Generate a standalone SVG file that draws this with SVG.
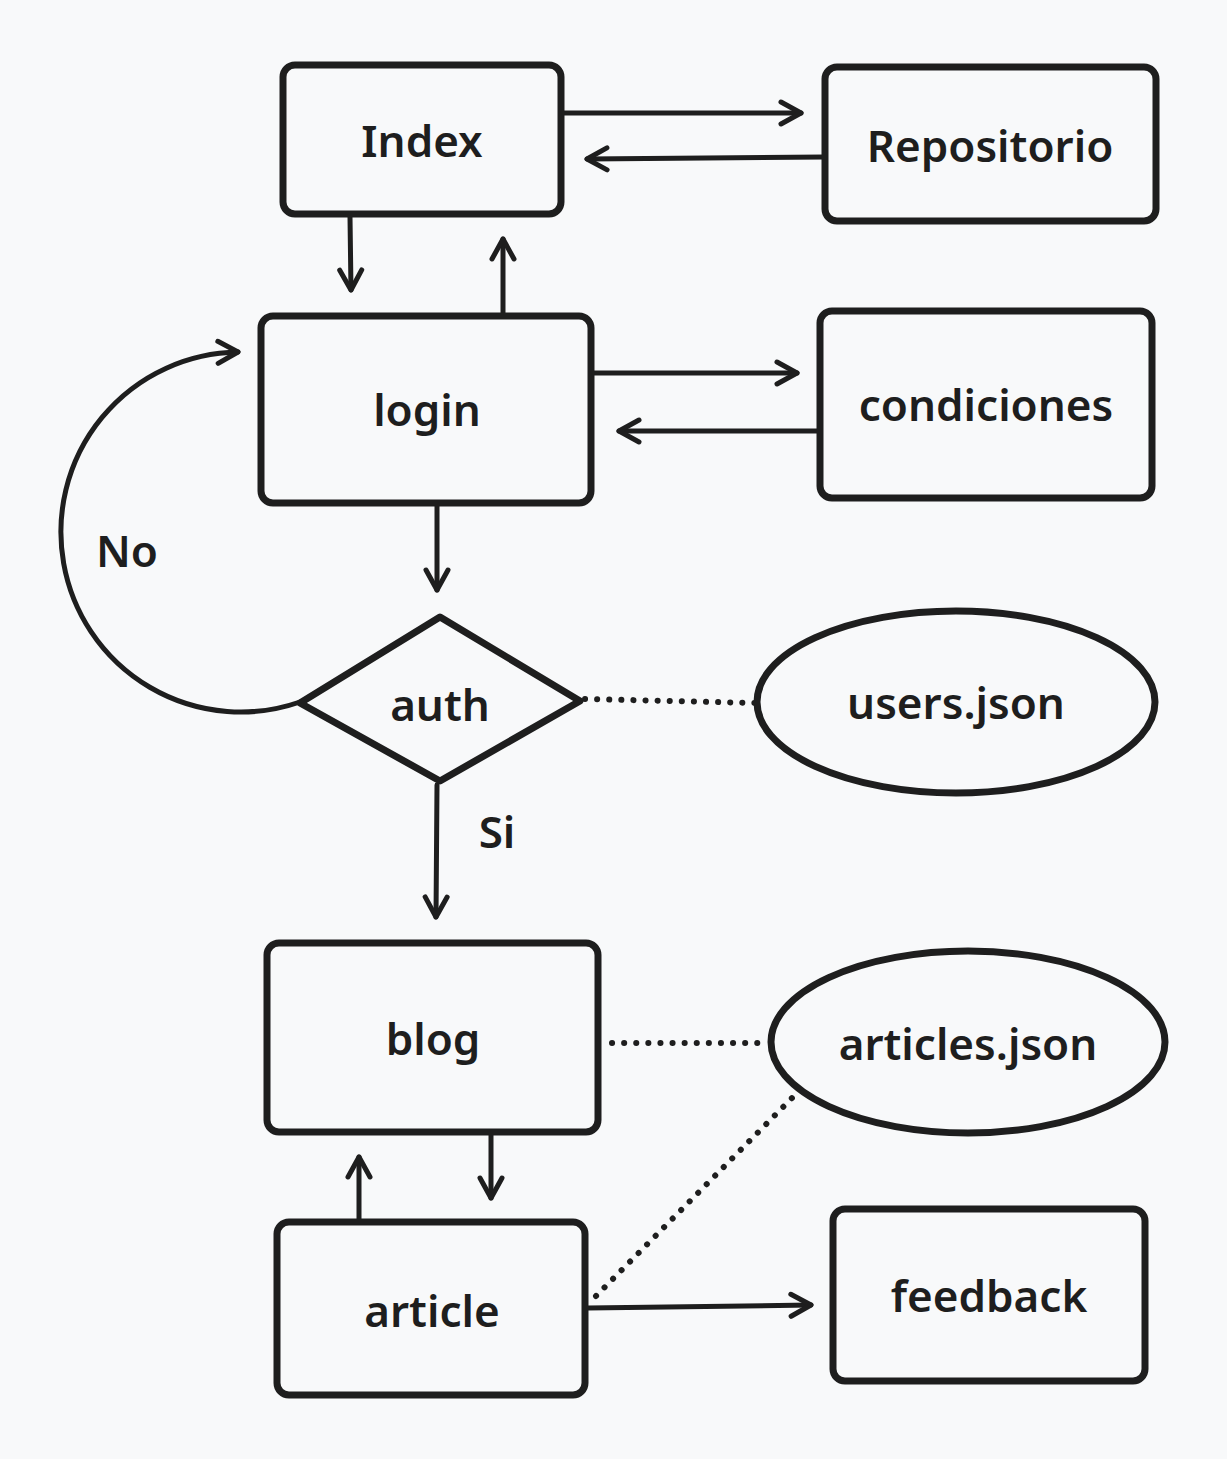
<svg xmlns="http://www.w3.org/2000/svg" width="1227" height="1459" viewBox="0 0 1227 1459">
<defs>
<marker id="ah" markerUnits="userSpaceOnUse" markerWidth="40" markerHeight="40" viewBox="-30 -20 40 40" refX="0" refY="0" orient="auto" overflow="visible">
<path d="M -20 -11 L 0 0 L -20 11" fill="none" stroke="#1e1e1e" stroke-width="5" stroke-linecap="round" stroke-linejoin="round"/>
</marker>
<style>
.box{fill:none;stroke:#1e1e1e;stroke-width:7;stroke-linejoin:round}
.lbl{font-family:"Noto Sans","Liberation Sans",sans-serif;font-weight:600;font-size:44px;fill:#1e1e1e;text-anchor:middle;dominant-baseline:central}
.edge{fill:none;stroke:#1e1e1e;stroke-width:5;stroke-linecap:round}
.arr{marker-end:url(#ah)}
.dot{fill:none;stroke:#1e1e1e;stroke-width:6;stroke-linecap:round;stroke-dasharray:0.1 12}
</style>
</defs>
<rect width="1227" height="1459" fill="#f8f9fa"/>
<g id="connectors">
<path class="edge arr" d="M 563 113 L 801 113"/>
<path class="edge arr" d="M 824 157 L 587 159"/>
<path class="edge arr" d="M 350 217 L 351 290"/>
<path class="edge arr" d="M 503 314 L 503 239"/>
<path class="edge arr" d="M 593 373 L 797 373"/>
<path class="edge arr" d="M 819 431 L 619 431"/>
<path class="edge arr" d="M 437 506 L 437 590"/>
<path class="edge arr" d="M 300 702 A 180 180 0 1 1 238 352"/>
<path class="edge arr" d="M 437 785 L 436 917"/>
<path class="edge arr" d="M 491 1135 L 491 1198"/>
<path class="edge arr" d="M 359 1220 L 359 1157"/>
<path class="edge arr" d="M 588 1308 L 811 1305"/>
<path class="dot" d="M 585 699 L 757 703"/>
<path class="dot" d="M 612 1043 L 760 1043"/>
<path class="dot" d="M 596 1296 L 796 1094"/>
<text class="lbl" x="127" y="550">No</text>
<text class="lbl" x="497" y="831">Si</text>
</g>
<g id="index"><rect class="box" x="283" y="65" width="278" height="149" rx="12"/><text class="lbl" x="422" y="140">Index</text></g>
<g id="repositorio"><rect class="box" x="825" y="67" width="331" height="154" rx="12"/><text class="lbl" x="990" y="145">Repositorio</text></g>
<g id="login"><rect class="box" x="261" y="316" width="330" height="187" rx="12"/><text class="lbl" x="427" y="409">login</text></g>
<g id="condiciones"><rect class="box" x="820" y="311" width="332" height="187" rx="12"/><text class="lbl" x="986" y="404">condiciones</text></g>
<g id="auth"><path class="box" d="M 440 617 L 580 701 L 440 781 L 300 703 Z"/><text class="lbl" x="440" y="704">auth</text></g>
<g id="users"><ellipse class="box" cx="956" cy="702" rx="199" ry="91"/><text class="lbl" x="956" y="702">users.json</text></g>
<g id="blog"><rect class="box" x="267" y="943" width="331" height="189" rx="12"/><text class="lbl" x="433" y="1038">blog</text></g>
<g id="articles"><ellipse class="box" cx="968" cy="1042" rx="197" ry="91"/><text class="lbl" x="968" y="1043">articles.json</text></g>
<g id="article"><rect class="box" x="277" y="1222" width="308" height="173" rx="12"/><text class="lbl" x="432" y="1310">article</text></g>
<g id="feedback"><rect class="box" x="833" y="1209" width="312" height="172" rx="12"/><text class="lbl" x="989" y="1295">feedback</text></g>
</svg>
